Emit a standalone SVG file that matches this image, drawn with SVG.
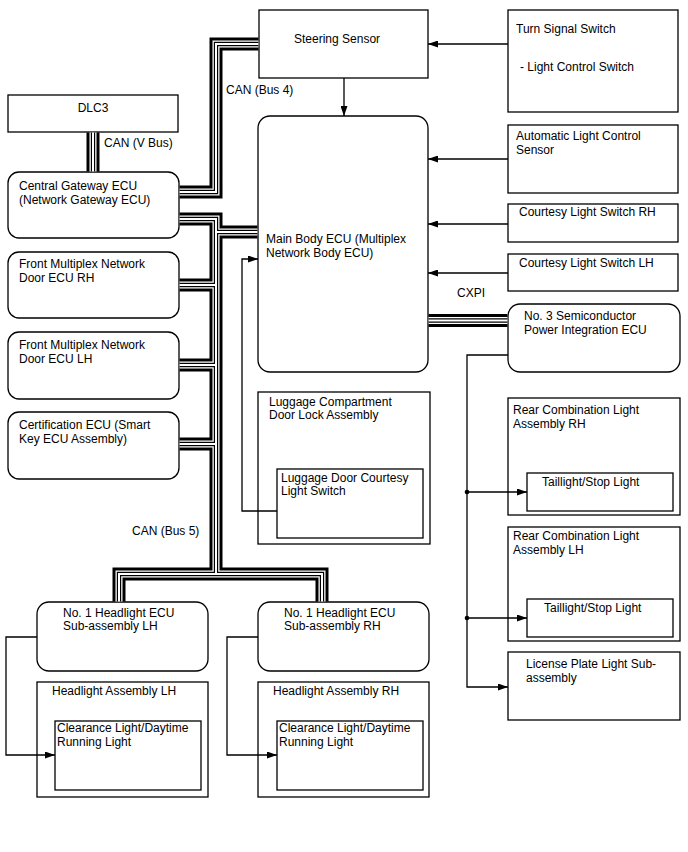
<svg xmlns="http://www.w3.org/2000/svg" width="688" height="852" viewBox="0 0 688 852">
<style>
text{font-family:"Liberation Sans",Arial,sans-serif;font-size:12px;fill:#000}
.box{fill:#fff;stroke:#000;stroke-width:1.3}
.ln{fill:none;stroke:#000;stroke-width:1.3}
.b1{fill:none;stroke:#000;stroke-width:13;stroke-linejoin:miter}
.b2{fill:none;stroke:#fff;stroke-width:7;stroke-linejoin:miter}
.b3{fill:none;stroke:#000;stroke-width:4.4;stroke-linejoin:miter}
.b4{fill:none;stroke:#fff;stroke-width:2;stroke-linejoin:miter}
</style>
<defs>
<marker id="ah" markerUnits="userSpaceOnUse" markerWidth="10" markerHeight="7" refX="10" refY="3.5" orient="auto">
<path d="M0,0 L10,3.5 L0,7 z" fill="#000"/>
</marker>
<path id="bus" d="M258.4,44 H216 V192 H179.6 M179.6,219 H216 V574 M216,232 H257.4 M179.6,285 H216 M179.6,365 H216 M179.6,444 H216 M119,601.4 V574 H322 V601.4 M428.6,320.5 H507.4 M93,132.6 V171.4"/>
</defs>
<g id="nodes">
<g id="steering"><rect class="box" x="259" y="10" width="169" height="68"/><text x="294" y="43">Steering Sensor</text></g>
<g id="turn-signal"><rect class="box" x="508" y="10" width="170" height="102"/><text x="516" y="33">Turn Signal Switch</text><text x="520" y="71">- Light Control Switch</text></g>
<g id="dlc3"><rect class="box" x="8" y="95" width="170" height="37"/><text x="93" y="112" text-anchor="middle">DLC3</text></g>
<g id="gateway"><rect class="box" x="8" y="172" width="171" height="66" rx="11"/><text x="19" y="190">Central Gateway ECU</text><text x="19" y="204">(Network Gateway ECU)</text></g>
<g id="door-rh"><rect class="box" x="8" y="252" width="171" height="66" rx="11"/><text x="19" y="268">Front Multiplex Network</text><text x="19" y="282">Door ECU RH</text></g>
<g id="door-lh"><rect class="box" x="8" y="332" width="171" height="67" rx="11"/><text x="19" y="349">Front Multiplex Network</text><text x="19" y="363">Door ECU LH</text></g>
<g id="cert"><rect class="box" x="8" y="412" width="171" height="67" rx="11"/><text x="19" y="429">Certification ECU (Smart</text><text x="19" y="443">Key ECU Assembly)</text></g>
<g id="main-body"><rect class="box" x="258" y="116" width="170" height="256" rx="12"/><text x="266" y="243">Main Body ECU (Multiplex</text><text x="266" y="257">Network Body ECU)</text></g>
<g id="alcs"><rect class="box" x="508" y="125" width="170" height="68"/><text x="516" y="140">Automatic Light Control</text><text x="516" y="154">Sensor</text></g>
<g id="courtesy-rh"><rect class="box" x="508" y="204" width="170" height="38"/><text x="519" y="216">Courtesy Light Switch RH</text></g>
<g id="courtesy-lh"><rect class="box" x="508" y="254" width="170" height="37"/><text x="519" y="267">Courtesy Light Switch LH</text></g>
<g id="no3"><rect class="box" x="508" y="304" width="172" height="68" rx="12"/><text x="524" y="320">No. 3 Semiconductor</text><text x="524" y="334">Power Integration ECU</text></g>
<g id="rear-rh"><rect class="box" x="508" y="398" width="172" height="117"/><text x="513" y="414">Rear Combination Light</text><text x="513" y="428">Assembly RH</text>
<g id="tail-rh"><rect class="box" x="527" y="473" width="146" height="38"/><text x="542" y="486">Taillight/Stop Light</text></g></g>
<g id="rear-lh"><rect class="box" x="508" y="527" width="172" height="114"/><text x="513" y="540">Rear Combination Light</text><text x="513" y="554">Assembly LH</text>
<g id="tail-lh"><rect class="box" x="527" y="599" width="146" height="38"/><text x="544" y="612">Taillight/Stop Light</text></g></g>
<g id="license"><rect class="box" x="508" y="652" width="172" height="68"/><text x="526" y="668">License Plate Light Sub-</text><text x="526" y="682">assembly</text></g>
<g id="luggage"><rect class="box" x="258" y="392" width="172" height="152"/><text x="269" y="406">Luggage Compartment</text><text x="269" y="419">Door Lock Assembly</text>
<g id="luggage-switch"><rect class="box" x="277" y="469" width="146" height="69"/><text x="281" y="482">Luggage Door Courtesy</text><text x="281" y="495">Light Switch</text></g></g>
<g id="hl-ecu-lh"><rect class="box" x="37" y="602" width="171" height="69" rx="12"/><text x="63" y="617">No. 1 Headlight ECU</text><text x="63" y="630">Sub-assembly LH</text></g>
<g id="hl-ecu-rh"><rect class="box" x="258" y="602" width="171" height="69" rx="12"/><text x="284" y="617">No. 1 Headlight ECU</text><text x="284" y="630">Sub-assembly RH</text></g>
<g id="hl-assy-lh"><rect class="box" x="37" y="682" width="171" height="115"/><text x="52" y="695">Headlight Assembly LH</text>
<g id="clear-lh"><rect class="box" x="55" y="721" width="146" height="69"/><text x="57" y="732">Clearance Light/Daytime</text><text x="57" y="746">Running Light</text></g></g>
<g id="hl-assy-rh"><rect class="box" x="258" y="682" width="171" height="115"/><text x="273" y="695">Headlight Assembly RH</text>
<g id="clear-rh"><rect class="box" x="277" y="721" width="146" height="69"/><text x="279" y="732">Clearance Light/Daytime</text><text x="279" y="746">Running Light</text></g></g>
</g>
<g id="connectors">
<use href="#bus" class="b1"/>
<use href="#bus" class="b2"/>
<use href="#bus" class="b3"/>
<use href="#bus" class="b4"/>
<path class="ln" d="M508,44 H428" marker-end="url(#ah)"/>
<path class="ln" d="M344,78 V116" marker-end="url(#ah)"/>
<path class="ln" d="M508,159 H428" marker-end="url(#ah)"/>
<path class="ln" d="M508,224 H428" marker-end="url(#ah)"/>
<path class="ln" d="M508,273 H428" marker-end="url(#ah)"/>
<path class="ln" d="M277,511 H242 V259 H258" marker-end="url(#ah)"/>
<path class="ln" d="M508,355 H467 V687 H508" marker-end="url(#ah)"/>
<path class="ln" d="M467,492 H527" marker-end="url(#ah)"/>
<path class="ln" d="M467,618 H527" marker-end="url(#ah)"/>
<circle cx="467" cy="492" r="2.3" fill="#000"/>
<circle cx="467" cy="618" r="2.3" fill="#000"/>
<path class="ln" d="M37,637 H6 V755 H55" marker-end="url(#ah)"/>
<path class="ln" d="M258,637 H227 V755 H277" marker-end="url(#ah)"/>
<text x="104" y="147">CAN (V Bus)</text>
<text x="226" y="94">CAN (Bus 4)</text>
<text x="132" y="535">CAN (Bus 5)</text>
<text x="457" y="297">CXPI</text>
</g>
</svg>
